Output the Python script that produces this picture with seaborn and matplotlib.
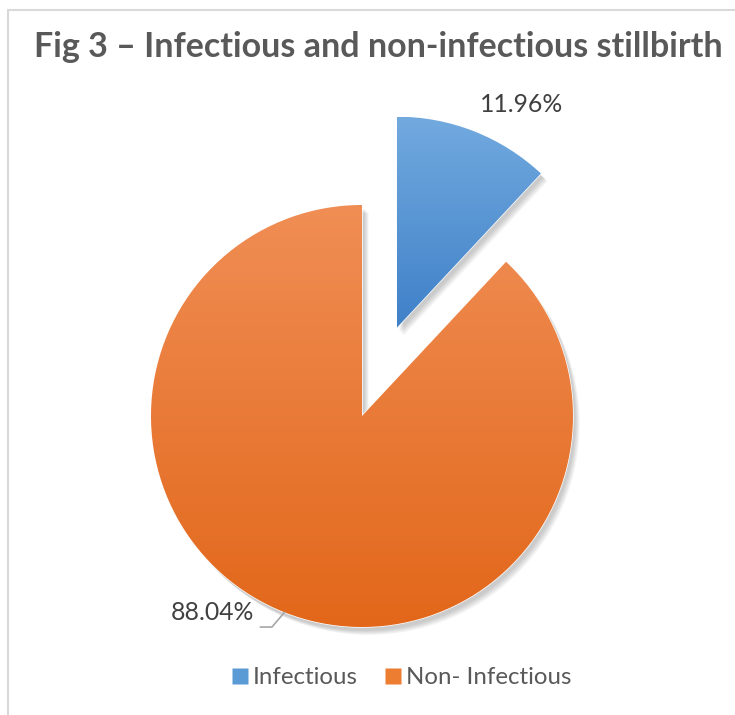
import numpy as np
import matplotlib
matplotlib.use('Agg')
import matplotlib.pyplot as plt
import seaborn as sns
from matplotlib.colors import LinearSegmentedColormap
from matplotlib.lines import Line2D
from matplotlib.patches import Rectangle, Wedge

categories = ['Infectious', 'Non- Infectious']
shares = [11.96, 88.04]
title = 'Fig 3 – Infectious and non-infectious stillbirth'

# kolory: gora / dol gradientu
top_colors = ['#72AADF', '#F08E55']
bottom_colors = ['#3F80C8', '#E2671A']
flat_colors = ['#5B9BD5', '#ED7D31']

sns.set_theme(style='white')
plt.rcParams['font.family'] = ['Lato', 'DejaVu Sans']

fig = plt.figure(figsize=(7.35, 7.15), dpi=100)
ax = fig.add_axes([0, 0, 1, 1])
r_px = 211
cx, cy = 362, 715 - 416

wedges, _ = ax.pie(shares, startangle=90, counterclock=False, explode=[0.45, 0],
                   colors=flat_colors, radius=1, center=(0, 0), frame=True)
ax.set_aspect('equal')
ax.axis('off')

# miekki cien pod kawalkami
for w in wedges:
    for k in range(6):
        s = Wedge((w.center[0] + 0.012 + 0.004 * k, w.center[1] - 0.018 - 0.004 * k), w.r,
                  w.theta1, w.theta2, facecolor='black', edgecolor='none',
                  alpha=0.035, zorder=0.5)
        ax.add_patch(s)

# gradient w kazdym kawalku
for w, c_top, c_bot in zip(wedges, top_colors, bottom_colors):
    w.set_zorder(1)
    bb = w.get_path().transformed(w.get_patch_transform()).get_extents()
    cmap = LinearSegmentedColormap.from_list('g', [c_bot, c_top])
    grad = np.linspace(0, 1, 256).reshape(-1, 1)
    im = ax.imshow(grad, cmap=cmap, origin='lower', aspect='auto',
                   extent=[bb.x0, bb.x1, bb.y0, bb.y1], zorder=2)
    im.set_clip_path(w)
ax.set_xlim(-cx / r_px, (735 - cx) / r_px)
ax.set_ylim(-cy / r_px, (715 - cy) / r_px)

# etykiety
lbl_txt = [f'{v:.2f}%' for v in shares]
ax.text(0.758, 1.474, lbl_txt[0], ha='center', va='center', fontsize=17.8,
        color='#404040', zorder=5)
ax.text(-0.512, -0.929, lbl_txt[1], ha='right', va='center', fontsize=17.8,
        color='#404040', zorder=5)

w = wedges[1]
mid = np.deg2rad((w.theta1 + w.theta2) / 2)
p0 = (w.center[0] + w.r * np.cos(mid), w.center[1] + w.r * np.sin(mid))
p1 = (p0[0] - 0.06, p0[1] - 0.07)
p2 = (p1[0] - 0.055, p1[1])
ax.plot([p0[0], p1[0], p2[0]], [p0[1], p1[1], p2[1]], color='#A6A6A6', lw=1.2, zorder=4)

fig.text(378 / 735, 1 - 47 / 715, title, ha='center', va='center', fontsize=24.5,
         fontweight='bold', color='#595959')

handles = [Line2D([], [], marker='s', linestyle='none', markersize=11,
                  markerfacecolor=c, markeredgecolor='none') for c in flat_colors]
fig.legend(handles, categories, loc='center', bbox_to_anchor=(401.5 / 735, 1 - 678 / 715),
           ncol=2, frameon=False, fontsize=17.3, handletextpad=0.2, columnspacing=1.1,
           labelcolor='#595959', handlelength=0.7)

fig.patches.append(Rectangle((8 / 735, -0.1), 1.2, 1 - 10 / 715 + 0.1, transform=fig.transFigure,
                             fill=False, edgecolor='#D9D9D9', linewidth=1.5))

fig.savefig('out.png', dpi=100)
